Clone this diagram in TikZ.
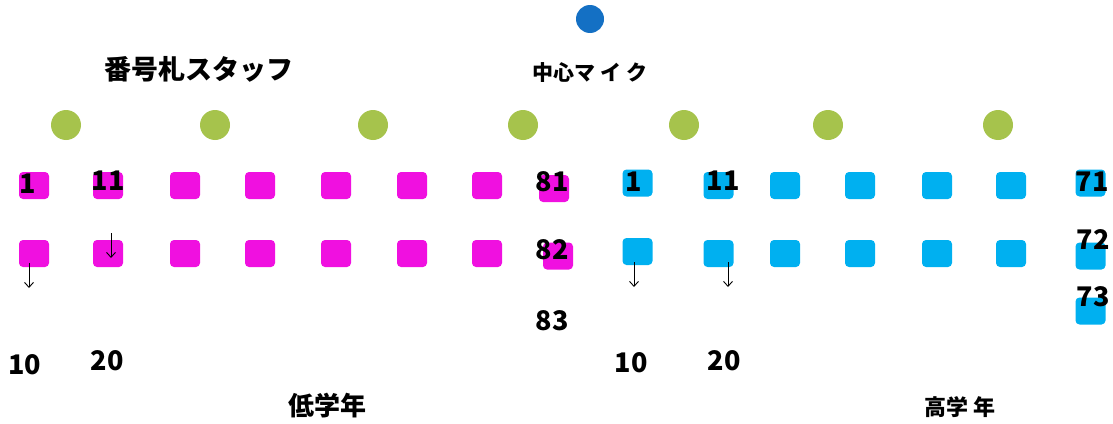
\documentclass[tikz,border=0pt]{standalone}
\usepackage{fontspec}
\setmainfont{Noto Sans CJK JP}
\usetikzlibrary{arrows.meta}

\definecolor{seatpink}{RGB}{240,16,224}
\definecolor{seatblue}{RGB}{0,176,240}
\definecolor{micgreen}{RGB}{166,195,76}
\definecolor{micblue}{RGB}{20,112,196}

\tikzset{
  lowseat/.style={fill=seatpink, rounded corners=4pt, minimum width=30pt, minimum height=27pt, inner sep=0pt},
  highseat/.style={lowseat, fill=seatblue},
  mic/.style={circle, fill=micgreen, minimum size=30pt, inner sep=0pt},
  num/.style={font=\fontsize{27}{30}\selectfont\bfseries, inner sep=0pt},
  walk/.style={-{Straight Barb[length=5pt,width=9pt]}, line width=0.9pt},
}

\begin{document}
\begin{tikzpicture}[x=1pt,y=-1pt]
  \useasboundingbox (0,0) rectangle (1113,423);

  % main mic and side mics
  \node[circle, fill=micblue, minimum size=28pt, inner sep=0pt] (centermic) at (590,19) {};
  \foreach \x/\n in {66/1,215/2,373/3,523/4,684/5,828/6,998/7}
    \node[mic] (mic\n) at (\x,125) {};

  % lower grades
  \foreach \x/\n in {34/1,108/2,185/3,260/4,336/5,412/6,487/7}{
    \node[lowseat] (low-a\n) at (\x,185.5) {};
    \node[lowseat] (low-b\n) at (\x,253.5) {};
  }
  \node[lowseat] (low-a8) at (554,188.5) {};
  \node[lowseat] (low-b8) at (558,256) {};

  % upper grades
  \node[highseat] (high-a1) at (637.5,183) {};
  \node[highseat] (high-b1) at (637.5,251.5) {};
  \foreach \x/\n in {718.5/2,785/3,860/4,937/5,1011/6}{
    \node[highseat] (high-a\n) at (\x,185.5) {};
    \node[highseat] (high-b\n) at (\x,253.5) {};
  }
  \node[highseat] (high-a7) at (1090.5,183) {};
  \node[highseat] (high-b7) at (1090.5,256) {};
  \node[highseat] (high-c7) at (1090.5,311) {};

  % seat numbers
  \node[num] (low-n1)  at (28,184)  {1};
  \node[num] (low-n11) at (108,181) {11};
  \node[num] (low-n10) at (25,365)  {10};
  \node[num] (low-n20) at (107,361) {20};
  \node[num] (low-n81) at (552,182) {81};
  \node[num] (low-n82) at (552,250) {82};
  \node[num] (low-n83) at (552,321) {83};
  \node[num] (high-n1)  at (634,182) {1};
  \node[num] (high-n11) at (723,181) {11};
  \node[num] (high-n10) at (631,363) {10};
  \node[num] (high-n20) at (724,361) {20};
  \node[num] (high-n71) at (1092,182) {71};
  \node[num] (high-n72) at (1093,240) {72};
  \node[num] (high-n73) at (1093,297) {73};

  % order of calling
  \coordinate (low-w1s) at (29,263);   \coordinate (low-w1e) at (29,288);
  \coordinate (low-w2s) at (111,233);  \coordinate (low-w2e) at (111,258);
  \coordinate (high-w1s) at (634,262); \coordinate (high-w1e) at (634,287);
  \coordinate (high-w2s) at (728,262); \coordinate (high-w2e) at (728,287);
  \draw[walk] (low-w1s) -- (low-w1e);
  \draw[walk] (low-w2s) -- (low-w2e);
  \draw[walk] (high-w1s) -- (high-w1e);
  \draw[walk] (high-w2s) -- (high-w2e);

  % labels
  \node[font=\fontsize{27}{30}\selectfont\bfseries] (staff) at (199,69) {番号札スタッフ};
  \node[font=\fontsize{21}{24}\selectfont\bfseries] (centerlabel) at (590,73) {中心マ イ ク};
  \node[font=\fontsize{26}{29}\selectfont\bfseries] (lowlabel) at (327,406) {低学年};
  \node[font=\fontsize{22}{25}\selectfont\bfseries] (highlabel) at (960,407) {高学 年};
\end{tikzpicture}
\end{document}
